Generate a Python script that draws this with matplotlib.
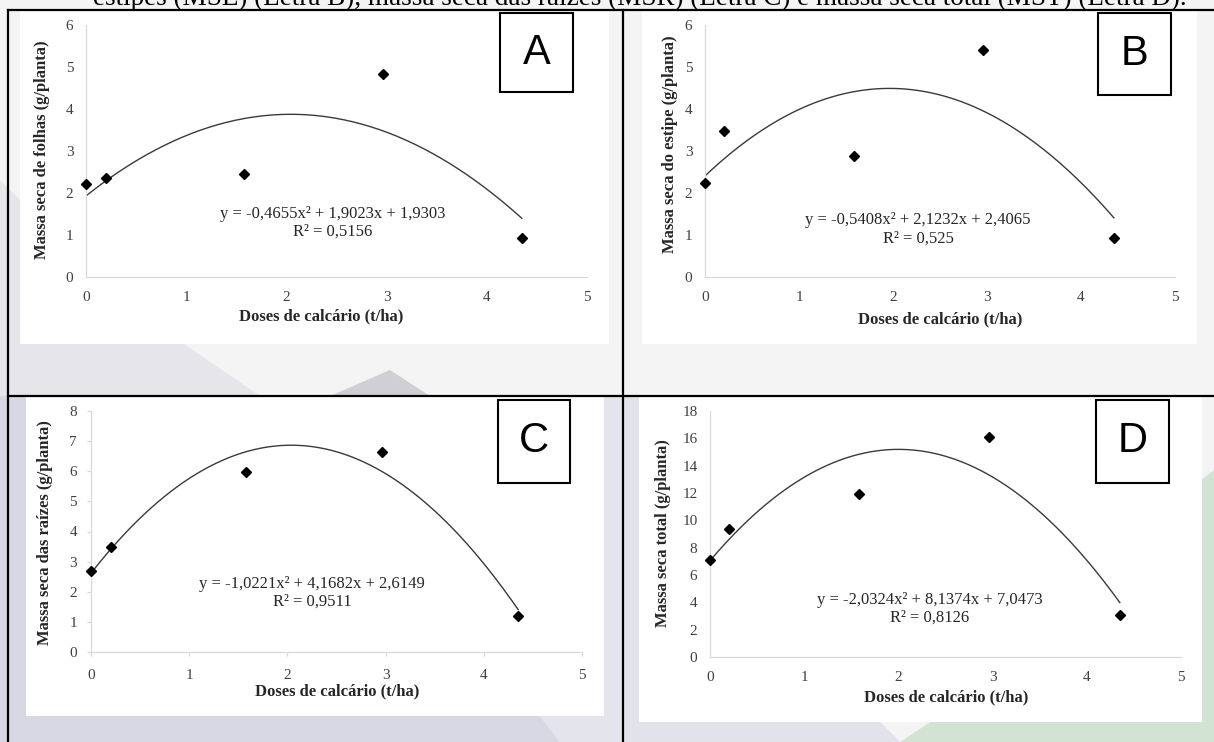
import numpy as np
import matplotlib
matplotlib.use("Agg")
import matplotlib.pyplot as plt
from matplotlib.patches import Rectangle, Polygon

# dados
doses = [0, 0.2, 1.58, 2.96, 4.35]
msf = [2.21, 2.35, 2.45, 4.83, 0.93]   # folhas
mse = [2.23, 3.48, 2.89, 5.41, 0.92]   # estipe
msr = [2.68, 3.49, 5.96, 6.65, 1.20]   # raizes
mst = [7.13, 9.36, 11.90, 16.12, 3.10] # total

coef_a = [-0.4655, 1.9023, 1.9303]
coef_b = [-0.5408, 2.1232, 2.4065]
coef_c = [-1.0221, 4.1682, 2.6149]
coef_d = [-2.0324, 8.1374, 7.0473]

eq_a = ["y = -0,4655x² + 1,9023x + 1,9303", "R² = 0,5156"]
eq_b = ["y = -0,5408x² + 2,1232x + 2,4065", "R² = 0,525"]
eq_c = ["y = -1,0221x² + 4,1682x + 2,6149", "R² = 0,9511"]
eq_d = ["y = -2,0324x² + 8,1374x + 7,0473", "R² = 0,8126"]

ylabels = ["Massa seca de folhas (g/planta)", "Massa seca do estipe (g/planta)",
           "Massa seca das raízes (g/planta)", "Massa seca total (g/planta)"]
xlabel = "Doses de calcário (t/ha)"
letters = ["A", "B", "C", "D"]
yticks_list = [range(0, 7), range(0, 7), range(0, 9), range(0, 19, 2)]
caption = ("estipes (MSE) (Letra B), massa seca das raízes (MSR) (Letra C) "
           "e massa seca total (MST) (Letra D).")

W, H = 1214, 742
SERIF = "Liberation Serif"


def fx(x):
    return x / W


def fy(y):
    return 1 - y / H


fig = plt.figure(figsize=(W / 100, H / 100), dpi=100, facecolor="#f4f4f4")

# marca d'agua do fundo
wm = [
    ([(0, 396), (0, 742), (560, 742), (420, 560), (260, 396)], "#d8d8e5"),
    ([(260, 396), (420, 560), (560, 742), (623, 742), (623, 396)], "#e4e4ec"),
    ([(623, 396), (623, 742), (900, 742), (760, 600), (700, 396)], "#e2e2ea"),
    ([(1100, 560), (1214, 470), (1214, 742), (900, 742), (1040, 650)], "#d3e3d3"),
    ([(0, 180), (0, 396), (260, 396), (120, 300)], "#e6e6ea"),
    ([(330, 396), (390, 370), (430, 396)], "#cfcfd6"),
]
for pts, col in wm:
    fig.patches.append(Polygon([(fx(x), fy(y)) for x, y in pts], closed=True,
                               transform=fig.transFigure, facecolor=col,
                               edgecolor="none", zorder=0))

# areas brancas dos graficos
white = [(20, 10, 609, 344), (642, 10, 1197, 344),
         (26, 396, 604, 716), (639, 396, 1202, 722)]
for x0, y0, x1, y1 in white:
    fig.patches.append(Rectangle((fx(x0), fy(y1)), fx(x1) - fx(x0), fy(y0) - fy(y1),
                                 transform=fig.transFigure, facecolor="white",
                                 edgecolor="none", zorder=1))

# linhas da tabela
for x in (8, 623):
    fig.add_artist(plt.Line2D([fx(x), fx(x)], [0, fy(10)], color="black", lw=1.6, zorder=5))
for y in (10, 396):
    fig.add_artist(plt.Line2D([fx(8), 1], [fy(y), fy(y)], color="black", lw=1.6, zorder=5))

# legenda do documento (cortada no topo, como no original)
fig.text(fx(93), fy(5), caption, family=SERIF, fontsize=19.5, ha="left", va="baseline")

# posicoes em pixels: eixo (esq, dir, topo, base), caixa letra, equacao, rotulos
axes_px = [(86, 587, 25, 277), (705, 1175, 25, 277), (91, 582, 411, 652), (710, 1181, 411, 657)]
box_px = [(500, 13, 573, 92), (1098, 13, 1171, 95), (498, 400, 570, 483), (1096, 400, 1169, 483)]
eq_px = [(333, 214, 232), (918, 220, 239), (312, 584, 602), (930, 600, 618)]
xlab_px = [(321, 316), (940, 319), (337, 691), (946, 697)]
ylab_px = [(42, 150), (670, 144), (45, 533), (663, 533)]

series = [msf, mse, msr, mst]
coefs = [coef_a, coef_b, coef_c, coef_d]
eqs = [eq_a, eq_b, eq_c, eq_d]

for i in range(4):
    l, r, t, b = axes_px[i]
    ax = fig.add_axes([fx(l), fy(b), fx(r) - fx(l), fy(t) - fy(b)])
    ax.set_facecolor("none")
    ax.set_zorder(3)
    yt = list(yticks_list[i])
    ax.set_xlim(0, 5)
    ax.set_ylim(0, yt[-1])
    ax.set_xticks(range(0, 6))
    ax.set_yticks(yt)
    for s in ("top", "right"):
        ax.spines[s].set_visible(False)
    for s in ("left", "bottom"):
        ax.spines[s].set_color("#d9d9d9")
        ax.spines[s].set_linewidth(0.9)
    tl = 3 if i == 2 else 0
    ax.tick_params(axis="x", length=tl, width=0.9, color="#d9d9d9", pad=9 if tl else 10,
                   labelsize=11, labelcolor="#404040", direction="out")
    ax.tick_params(axis="y", length=tl, width=0.9, color="#d9d9d9", pad=9 if not tl else 7,
                   labelsize=11, labelcolor="#404040", direction="out")
    for lab in ax.get_xticklabels() + ax.get_yticklabels():
        lab.set_family(SERIF)

    xs = np.linspace(doses[0], doses[-1], 200)
    ax.plot(xs, np.polyval(coefs[i], xs), color="#3a3a3a", lw=1.0, zorder=2)
    ax.plot(doses, series[i], linestyle="none", marker="D", markersize=5.5,
            color="black", zorder=3, clip_on=False)

    ax.set_xlabel(xlabel, family=SERIF, fontsize=12, fontweight="bold", color="#262626")
    ax.xaxis.set_label_coords(fx(xlab_px[i][0]), fy(xlab_px[i][1]), transform=fig.transFigure)
    ax.xaxis.label.set_va("center")
    ax.set_ylabel(ylabels[i], family=SERIF, fontsize=12, fontweight="bold", color="#262626")
    ax.yaxis.set_label_coords(fx(ylab_px[i][0]), fy(ylab_px[i][1]), transform=fig.transFigure)
    ax.yaxis.label.set_va("center")

    ex, ey1, ey2 = eq_px[i]
    fig.text(fx(ex), fy(ey1), eqs[i][0], family=SERIF, fontsize=12, color="#262626",
             ha="center", va="center", zorder=6)
    fig.text(fx(ex), fy(ey2), eqs[i][1], family=SERIF, fontsize=12, color="#262626",
             ha="center", va="center", zorder=6)

    bx0, by0, bx1, by1 = box_px[i]
    fig.patches.append(Rectangle((fx(bx0), fy(by1)), fx(bx1) - fx(bx0), fy(by0) - fy(by1),
                                 transform=fig.transFigure, facecolor="white",
                                 edgecolor="black", lw=1.5, zorder=4))
    fig.text(fx((bx0 + bx1) / 2), fy((by0 + by1) / 2), letters[i], family="Liberation Sans",
             fontsize=30, ha="center", va="center", zorder=6)

fig.savefig("out.png", dpi=100, facecolor=fig.get_facecolor())
